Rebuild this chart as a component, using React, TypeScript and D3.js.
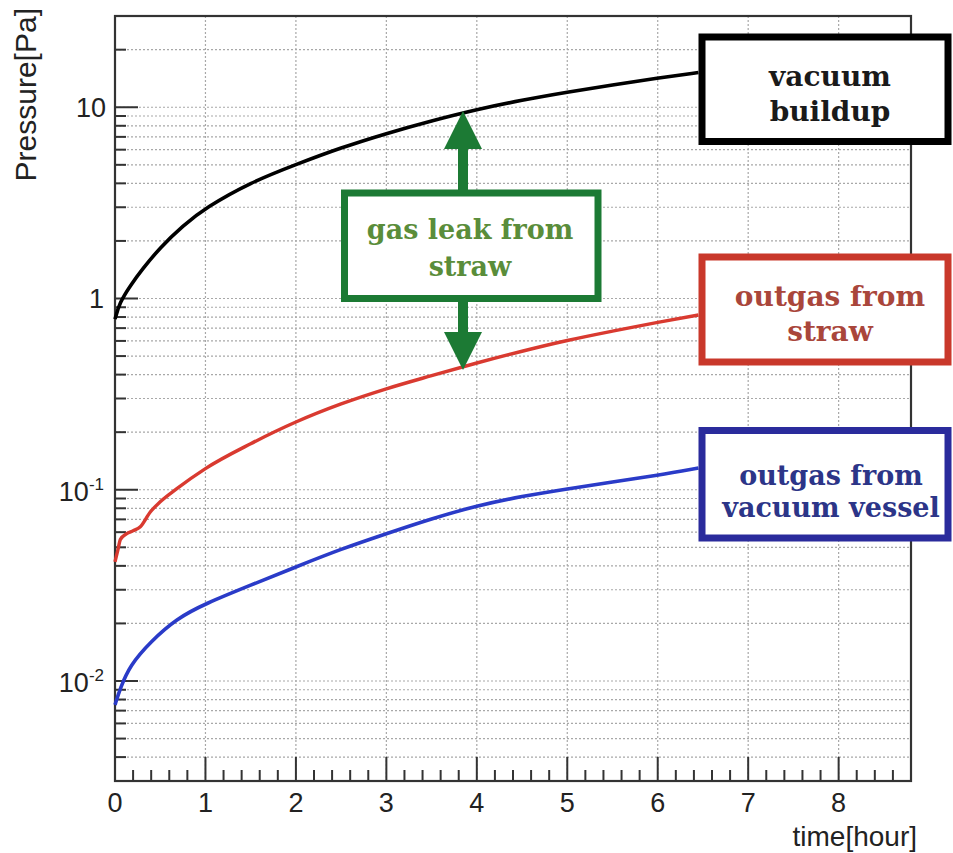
import React from "react";
import * as d3 from "d3";

// Pressure build-up over time, log scale
const blackTime = [0, 0.05, 0.17, 0.3, 0.5, 0.75, 1, 1.5, 2, 2.5, 3, 3.5, 4, 4.5, 5, 5.5, 6, 6.45];
const vacuumBuildup = [0.78, 0.95, 1.17, 1.42, 1.85, 2.4, 2.98, 4.05, 5.02, 6.15, 7.3, 8.5, 9.75, 10.9, 12.0, 13.1, 14.2, 15.2];

const redTime = [0, 0.03, 0.06, 0.13, 0.2, 0.28, 0.39, 0.5, 0.68, 1, 1.5, 2, 2.5, 3, 3.5, 4, 4.5, 5, 5.5, 6, 6.45];
const outgasStraw = [0.042, 0.048, 0.055, 0.059, 0.061, 0.064, 0.0765, 0.0865, 0.101, 0.129, 0.174, 0.226, 0.281, 0.337, 0.395, 0.46, 0.53, 0.603, 0.675, 0.75, 0.82];

const blueTime = [0, 0.055, 0.166, 0.39, 0.68, 1, 1.5, 2, 2.5, 3, 3.5, 4, 4.5, 5, 5.5, 6, 6.45];
const outgasVessel = [0.0075, 0.0091, 0.0121, 0.016, 0.0212, 0.0254, 0.0317, 0.0395, 0.049, 0.0589, 0.0706, 0.0825, 0.0925, 0.101, 0.11, 0.119, 0.13];

const xTicks = [0, 1, 2, 3, 4, 5, 6, 7, 8];
const yMajor = [0.01, 0.1, 1, 10];

const W = 953;
const H = 853;
const L = 115, R = 911, T = 16, B = 781;

const x = d3.scaleLinear().domain([0, 8.8]).range([L, R]);
const y = d3.scaleLog().domain([0.003, 30]).range([B, T]);

const SANS = "'Liberation Sans', Arial, sans-serif";
const SERIF = "'DejaVu Serif', serif";

function series(t: number[], v: number[]) {
  return t.map((tt, i) => [tt, v[i]] as [number, number]);
}

export default function App() {
  const smooth = d3
    .line<[number, number]>()
    .x((d) => x(d[0]))
    .y((d) => y(d[1]))
    .curve(d3.curveBasis);
  const jag = d3
    .line<[number, number]>()
    .x((d) => x(d[0]))
    .y((d) => y(d[1]))
    .curve(d3.curveMonotoneX);

  // minor log ticks 2..9 per decade inside domain
  const minor: number[] = [];
  for (let e = -3; e <= 1; e++) {
    for (let m = 2; m <= 9; m++) {
      const v = m * Math.pow(10, e);
      if (v >= 0.003 && v <= 30) minor.push(v);
    }
  }
  const xMinor: number[] = [];
  for (let i = 0; i <= 44; i++) {
    const v = i * 0.2;
    if (Math.abs(v - Math.round(v)) > 1e-6) xMinor.push(v);
  }

  const gridColor = "#a8a8a8";

  const arrowX = 463;
  const topTip = 111;
  const botTip = 370;
  const boxTop = 193;
  const boxBot = 298.5;
  const green = "#1c7a34";

  return (
    <svg
      width={W}
      height={H}
      style={{ position: "absolute", left: 0, top: 0, background: "#fff" }}
    >
      <rect x={0} y={0} width={W} height={H} fill="#fff" />
      {/* grid */}
      {[...minor, ...yMajor].map((v, i) => (
        <line
          key={"gy" + i}
          x1={L}
          x2={R}
          y1={y(v)}
          y2={y(v)}
          stroke={gridColor}
          strokeWidth={1.2}
          strokeDasharray="2 2"
        />
      ))}
      {xTicks.slice(1).map((v) => (
        <line
          key={"gx" + v}
          x1={x(v)}
          x2={x(v)}
          y1={T}
          y2={B}
          stroke={gridColor}
          strokeWidth={1.2}
          strokeDasharray="2 2"
        />
      ))}
      {/* ticks */}
      {yMajor.map((v) => (
        <line key={"ym" + v} x1={L} x2={L + 23} y1={y(v)} y2={y(v)} stroke="#333" strokeWidth={2} />
      ))}
      {minor.map((v, i) => (
        <line key={"yn" + i} x1={L} x2={L + 11} y1={y(v)} y2={y(v)} stroke="#333" strokeWidth={2} />
      ))}
      {xTicks.map((v) => (
        <line key={"xm" + v} x1={x(v)} x2={x(v)} y1={B} y2={B - 24} stroke="#333" strokeWidth={2} />
      ))}
      {xMinor.map((v, i) => (
        <line key={"xn" + i} x1={x(v)} x2={x(v)} y1={B} y2={B - 11} stroke="#333" strokeWidth={2} />
      ))}
      {/* frame */}
      <rect x={L} y={T} width={R - L} height={B - T} fill="none" stroke="#333" strokeWidth={2.2} />

      {/* tick labels */}
      {xTicks.map((v) => (
        <text key={"xl" + v} x={x(v)} y={812} textAnchor="middle" fontFamily={SANS} fontSize={27} fill="#222">
          {v}
        </text>
      ))}
      <text x={106} y={y(10) + 10} textAnchor="end" fontFamily={SANS} fontSize={27} fill="#222">10</text>
      <text x={104} y={y(1) + 10} textAnchor="end" fontFamily={SANS} fontSize={27} fill="#222">1</text>
      {[0.1, 0.01].map((v) => (
        <text key={"ys" + v} x={104} y={y(v) + 11} textAnchor="end" fontFamily={SANS} fontSize={27} fill="#222">
          10
          <tspan fontSize={17} dy={-11}>{v === 0.1 ? "-1" : "-2"}</tspan>
        </text>
      ))}

      {/* axis titles */}
      <text
        transform="translate(36,8) rotate(-90)"
        textAnchor="end"
        fontFamily={SANS}
        fontSize={30}
        fill="#222"
      >
        Pressure[Pa]
      </text>
      <text x={917} y={846} textAnchor="end" fontFamily={SANS} fontSize={28} fill="#222">
        time[hour]
      </text>

      {/* curves */}
      <path d={smooth(series(blackTime, vacuumBuildup)) || ""} fill="none" stroke="#000" strokeWidth={3.6} />
      <path d={jag(series(redTime, outgasStraw)) || ""} fill="none" stroke="#d93a30" strokeWidth={3.4} strokeLinejoin="round" />
      <path d={smooth(series(blueTime, outgasVessel)) || ""} fill="none" stroke="#2a3bc8" strokeWidth={3.6} />

      {/* labelled boxes */}
      <rect x={702} y={37} width={246} height={104.5} fill="#fff" stroke="#000" strokeWidth={7} />
      <text textAnchor="middle" fontFamily={SERIF} fontWeight="bold" fontSize={28} fill="#1a1a1a">
        <tspan x={830} y={86}>vacuum</tspan>
        <tspan x={830} y={121}>buildup</tspan>
      </text>

      <rect x={702} y={257} width={246} height={105} fill="#fff" stroke="#c9382b" strokeWidth={7} />
      <text textAnchor="middle" fontFamily={SERIF} fontWeight="bold" fontSize={28} fill="#a9463b">
        <tspan x={830} y={306}>outgas from</tspan>
        <tspan x={830} y={341}>straw</tspan>
      </text>

      <rect x={702} y={430.5} width={246} height={107.5} fill="#fff" stroke="#2a2b9c" strokeWidth={7} />
      <text textAnchor="middle" fontFamily={SERIF} fontWeight="bold" fontSize={27} fill="#2c3588">
        <tspan x={831} y={485}>outgas from</tspan>
        <tspan x={831} y={517}>vacuum vessel</tspan>
      </text>

      {/* gas leak arrows */}
      <rect x={arrowX - 5} y={topTip + 36} width={10} height={boxTop - topTip - 36} fill={green} />
      <polygon
        points={`${arrowX},${topTip} ${arrowX - 19},${topTip + 38} ${arrowX + 19},${topTip + 38}`}
        fill={green}
      />
      <rect x={arrowX - 5} y={boxBot} width={10} height={botTip - 36 - boxBot} fill={green} />
      <polygon
        points={`${arrowX},${botTip} ${arrowX - 19},${botTip - 38} ${arrowX + 19},${botTip - 38}`}
        fill={green}
      />
      <rect x={344.5} y={boxTop} width={253.5} height={boxBot - boxTop} fill="#fff" stroke={green} strokeWidth={7} />
      <text textAnchor="middle" fontFamily={SERIF} fontWeight="bold" fontSize={27} fill="#5a8d3a">
        <tspan x={470} y={239}>gas leak from</tspan>
        <tspan x={470} y={276}>straw</tspan>
      </text>
    </svg>
  );
}
